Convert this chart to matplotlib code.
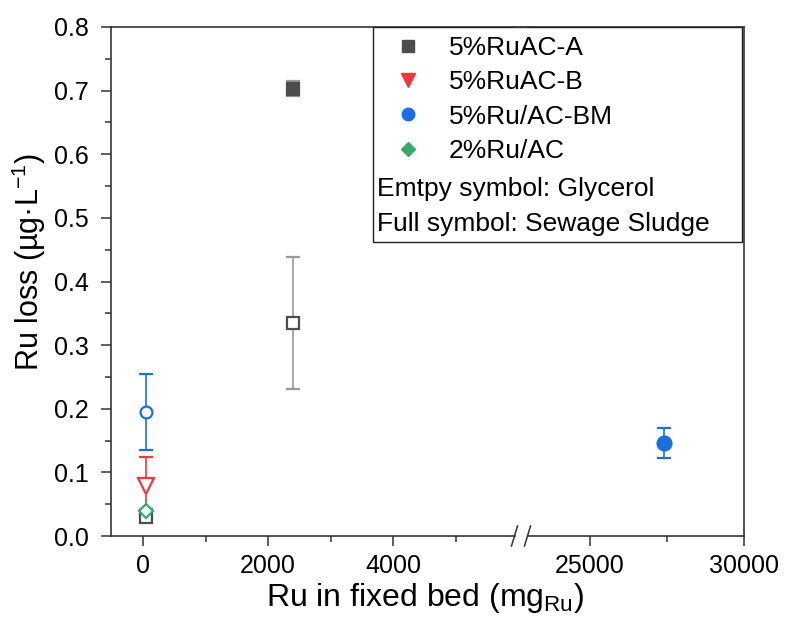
import matplotlib
matplotlib.use("Agg")
import matplotlib.pyplot as plt
from matplotlib.lines import Line2D
from matplotlib.patches import Rectangle

plt.rcParams['font.family'] = ['Liberation Sans', 'DejaVu Sans']

# data: (x, y, err)
a_full = ([2400], [0.703], [0.012])
a_empty = ([2400, 50], [0.335, 0.030], [0.104, 0.0])
b_empty = ([50], [0.078], [0.046])
bm_empty = ([50], [0.195], [0.060])
bm_full = ([27400], [0.146], [0.023])
ru2_empty = ([50], [0.039], [0.004])

c_gray = '#4d4d4d'
c_red = '#f0383c'
c_blue = '#1a6fdf'
c_green = '#36a869'

W, H = 789, 637
fig = plt.figure(figsize=(W / 100, H / 100), dpi=100)

def fx(px):
    return px / W

def fy(py):
    return 1 - py / H

top, bot = 27, 536
ax1 = fig.add_axes([fx(111), fy(bot), fx(515 - 111), (bot - top) / H])
ax2 = fig.add_axes([fx(528), fy(bot), fx(744 - 528), (bot - top) / H])

def draw(ax):
    kw = dict(linestyle='none', capsize=5, elinewidth=1.2, capthick=1.2, ms=8.5, mew=1.6)
    x, y, e = a_full
    ax.errorbar(x, y, yerr=e, marker='s', color=c_gray, ecolor='#999999', **dict(kw, ms=9))
    x, y, e = a_empty
    ax.errorbar(x, y, yerr=e, marker='s', color=c_gray, mfc='white', ecolor='#999999', **kw)
    x, y, e = bm_empty
    ax.errorbar(x, y, yerr=e, marker='o', color=c_blue, mfc='white', **kw)
    x, y, e = b_empty
    ax.errorbar(x, y, yerr=e, marker='v', color=c_red, mfc='white', **dict(kw, ms=11))
    x, y, e = ru2_empty
    ax.errorbar(x, y, yerr=e, marker='D', color=c_green, mfc='white', **dict(kw, ms=7.5))
    x, y, e = bm_full
    ax.errorbar(x, y, yerr=e, marker='o', color=c_blue, **dict(kw, ms=10))
    ax.set_ylim(0, 0.8)

draw(ax1)
draw(ax2)

ax1.set_xlim(-512, 5952)
ax2.set_xlim(22987, 30000)

ax1.set_xticks([0, 2000, 4000])
ax1.set_xticks([1000, 3000, 5000], minor=True)
ax2.set_xticks([25000, 30000])
ax2.set_xticks([27500], minor=True)
ax1.set_yticks([i / 10 for i in range(9)])
ax1.set_yticklabels([f'{i / 10:.1f}' for i in range(9)])
ax1.set_yticks([i / 10 + 0.05 for i in range(8)], minor=True)

for ax in (ax1, ax2):
    ax.tick_params(which='major', direction='out', length=7, width=1.1, labelsize=18,
                   color='#333333')
    ax.tick_params(which='minor', direction='out', length=4, width=1.1, color='#333333')
    ax.tick_params(axis='x', which='major', pad=6)
    ax.tick_params(axis='y', which='major', pad=9)
    for s in ax.spines.values():
        s.set_linewidth(1.2)
        s.set_color('#333333')

ax1.spines['right'].set_visible(False)
ax2.spines['left'].set_visible(False)
ax2.tick_params(axis='y', which='both', left=False, labelleft=False)

# top spine across the gap
fig.add_artist(Line2D([fx(515), fx(528)], [fy(top), fy(top)], color='#333333', lw=1.2))
# break marks
for cx in (514.5, 527.5):
    fig.add_artist(Line2D([fx(cx - 3), fx(cx + 3)], [fy(546), fy(526)], color='#333333', lw=1.1))

fig.text(fx(29), fy(262), 'Ru loss (\u00b5g\u00b7L$^{\\mathregular{-1}}$)', fontsize=22,
         rotation=90, ha='center', va='center')
fig.text(fx(425), fy(598), 'Ru in fixed bed (mg$_{\\mathregular{Ru}}$)', fontsize=23,
         ha='center', va='center')

# legend box
fig.add_artist(Rectangle((fx(373), fy(242)), fx(742 - 373), (242 - 27) / H,
                         transform=fig.transFigure, fill=False, ec='#222222', lw=1.0))
handles = [
    Line2D([], [], ls='none', marker='s', color=c_gray, ms=8.5),
    Line2D([], [], ls='none', marker='v', color=c_red, ms=10),
    Line2D([], [], ls='none', marker='o', color=c_blue, ms=9),
    Line2D([], [], ls='none', marker='D', color=c_green, ms=7.5),
]
labels = ['5%RuAC-A', '5%RuAC-B', '5%Ru/AC-BM', '2%Ru/AC']
fig.legend(handles, labels, loc='upper left', bbox_to_anchor=(fx(395), fy(36)),
           frameon=False, fontsize=19, handlelength=1.0, handletextpad=1.05,
           labelspacing=0.39, borderpad=0, borderaxespad=0)
fig.text(fx(377), fy(189), 'Emtpy symbol: Glycerol', fontsize=19, va='center')
fig.text(fx(377), fy(224), 'Full symbol: Sewage Sludge', fontsize=19, va='center')

fig.savefig('out.png', dpi=100)
